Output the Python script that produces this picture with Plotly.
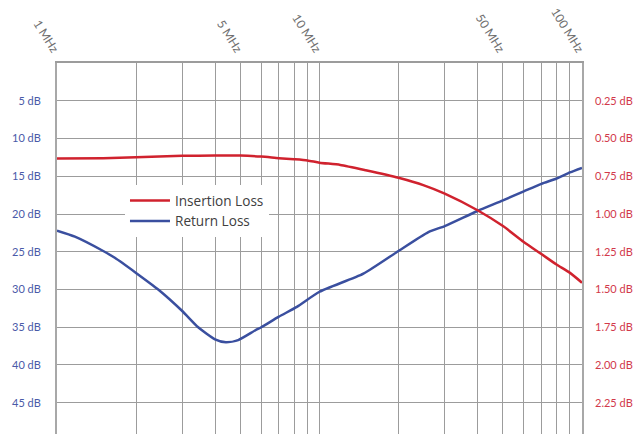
import plotly.graph_objects as go

# Frequencies (MHz) and readings
il_freq = [1, 1.5, 2, 3, 4, 5, 6, 7, 8, 9, 10, 12, 15, 20, 25, 30, 40, 50, 60, 70, 80, 90, 100]
il_db = [0.632, 0.630, 0.625, 0.615, 0.613, 0.613, 0.620, 0.630, 0.637, 0.645, 0.660, 0.675,
         0.710, 0.760, 0.810, 0.865, 0.975, 1.080, 1.185, 1.265, 1.335, 1.390, 1.455]

rl_freq = [1, 1.17, 1.5, 1.66, 2, 2.43, 3, 3.45, 4, 4.4, 4.9, 5.7, 6, 7, 8.2, 10, 14.7,
           20, 26, 30, 40, 50, 60, 70, 80, 90, 100]
rl_db = [22.2, 23.0, 24.9, 25.8, 27.8, 30.0, 32.85, 35.0, 36.6, 37.0, 36.7, 35.4, 35.0,
         33.6, 32.3, 30.3, 27.9, 24.9, 22.4, 21.6, 19.6, 18.2, 17.0, 16.0, 15.3, 14.5, 13.9]

x_grid = [1, 2, 3, 4, 5, 6, 7, 8, 9, 10, 20, 30, 40, 50, 60, 70, 80, 90, 100]
x_labels = ["1 MHz", "", "", "", "5 MHz", "", "", "", "", "10 MHz",
            "", "", "", "50 MHz", "", "", "", "", "100 MHz"]
left_ticks = [5, 10, 15, 20, 25, 30, 35, 40, 45]
left_labels = [f"{v} dB" for v in left_ticks]
right_ticks = [0.25, 0.50, 0.75, 1.00, 1.25, 1.50, 1.75, 2.00, 2.25]
right_labels = [f"{v:.2f} dB" for v in right_ticks]

RED = "#d0222e"
BLUE = "#3a4f9f"
GRID = "#9c9c9c"

fig = go.Figure()
fig.add_trace(go.Scatter(x=il_freq, y=il_db, name="Insertion Loss", mode="lines",
                         line=dict(color=RED, width=2.5, shape="spline", smoothing=0.6),
                         yaxis="y2"))
fig.add_trace(go.Scatter(x=rl_freq, y=rl_db, name="Return Loss", mode="lines",
                         line=dict(color=BLUE, width=2.5, shape="spline", smoothing=0.6),
                         yaxis="y"))

ymax = 49.14
fig.update_layout(
    width=635, height=434,
    margin=dict(l=57, r=53, t=63, b=0, pad=0, autoexpand=False),
    paper_bgcolor="white", plot_bgcolor="white",
    font=dict(family="Lato", size=11),
    showlegend=True,
    legend=dict(x=0.1295, y=0.671, xanchor="left", yanchor="top",
                bgcolor="white", borderwidth=0, itemwidth=40,
                font=dict(family="Open Sans", size=13.6, color="#404040"),
                tracegroupgap=0),
    xaxis=dict(type="log", range=[0, 2], side="top",
               tickvals=x_grid, ticktext=x_labels, tickangle=58,
               showgrid=True, gridcolor=GRID, gridwidth=1.3,
               ticks="", showline=True, linecolor=GRID, linewidth=1.5,
               ticklabelstandoff=0,
               tickfont=dict(family="Lato", size=12, color="#6e6e6e"),
               zeroline=False, automargin=False),
    yaxis=dict(range=[ymax, 0], tickvals=left_ticks, ticktext=left_labels,
               showgrid=True, gridcolor=GRID, gridwidth=1.3,
               showline=True, linecolor="#a8a8a8", linewidth=2, mirror=True,
               ticks="", ticklabelstandoff=12,
               tickfont=dict(family="Lato", size=11, color="#4a5aa8"),
               zeroline=False, automargin=False),
    yaxis2=dict(range=[ymax / 20, 0], overlaying="y", side="right",
                tickvals=right_ticks, ticktext=right_labels,
                showgrid=False, ticks="", ticklabelstandoff=12,
                tickfont=dict(family="Lato", size=11, color="#d2394a"),
                zeroline=False, automargin=False),
)

fig.write_html("out.html", config={"displayModeBar": False},
               post_script="document.body.style.margin='0';document.body.style.padding='0';")
